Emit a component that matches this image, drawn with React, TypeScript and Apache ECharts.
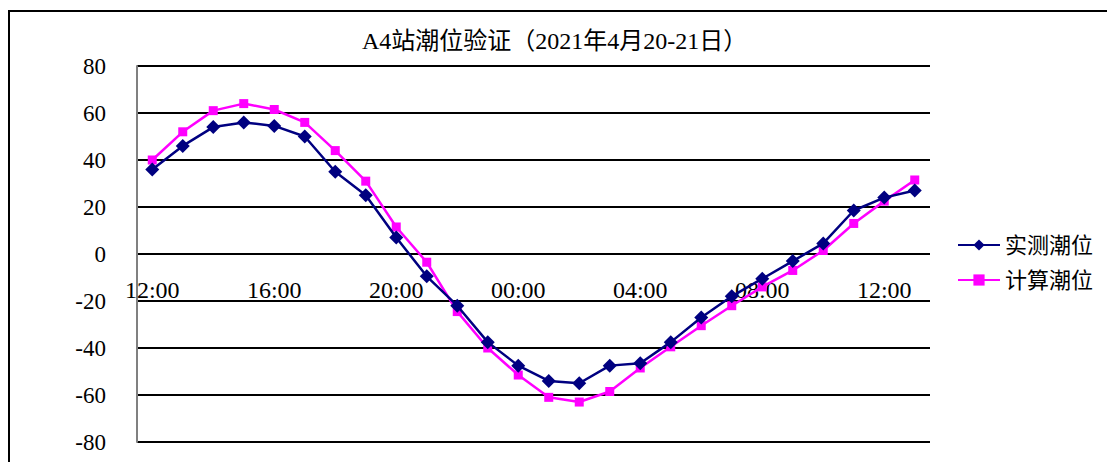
import React, { useEffect, useRef } from "react";
import * as echarts from "echarts";

const categories = [
  "12:00", "13:00", "14:00", "15:00", "16:00", "17:00", "18:00", "19:00",
  "20:00", "21:00", "22:00", "23:00", "00:00", "01:00", "02:00", "03:00",
  "04:00", "05:00", "06:00", "07:00", "08:00", "09:00", "10:00", "11:00",
  "12:00", "13:00",
];

const measured = [
  36, 46, 54, 56, 54.5, 50, 35, 25, 7, -9.5, -22, -37.5, -47.5, -54, -55,
  -47.5, -46.5, -37.5, -27, -18, -10.5, -3, 4.5, 18.5, 24, 27,
];

const computed = [
  40, 52, 61, 64, 61.5, 56, 44, 31, 11.5, -3.5, -24.5, -40, -51.5, -61, -63,
  -58.5, -48.5, -39.5, -30.5, -22, -14, -7, 1.5, 13, 22.5, 31.5,
];

const seriesNames = ["实测潮位", "计算潮位"];
const titleText = "A4站潮位验证（2021年4月20-21日）";

const FONT = "'Liberation Serif', 'Noto Sans CJK SC', serif";

const GRID_TOP = 66;
const GRID_BOTTOM_PX = 442;
const ZERO_PX = 254;

export default function App() {
  const ref = useRef<HTMLDivElement>(null);

  useEffect(() => {
    if (!ref.current) return;
    const chart = echarts.init(ref.current, undefined, { renderer: "svg" });
    chart.setOption({
      animation: false,
      backgroundColor: "#ffffff",
      textStyle: { fontFamily: FONT },
      title: {
        text: titleText,
        left: 362,
        top: 29,
        padding: 0,
        textStyle: {
          fontFamily: FONT,
          fontSize: 24,
          fontWeight: "normal",
          color: "#000",
        },
      },
      legend: {
        orient: "vertical",
        left: 957,
        top: 234,
        padding: 0,
        itemWidth: 42,
        itemHeight: 14,
        itemGap: 13,
        textStyle: { fontFamily: FONT, fontSize: 22, color: "#000", padding: [0, 0, 0, 0] },
        data: seriesNames,
      },
      graphic: [
        {
          type: "rect",
          shape: { x: 9, y: 11, width: 1200, height: 520 },
          style: { fill: "none", stroke: "#000", lineWidth: 2 },
          silent: true,
          z: 100,
        },
      ],
      grid: {
        left: 137,
        right: 177,
        top: GRID_TOP,
        bottom: 462 - GRID_BOTTOM_PX,
        containLabel: false,
        outerBoundsMode: "none",
      },
      xAxis: {
        type: "category",
        data: categories,
        boundaryGap: true,
        position: "bottom",
        offset: -(GRID_BOTTOM_PX - ZERO_PX),
        axisLine: { show: false, onZero: false },
        axisTick: { show: false },
        axisLabel: {
          interval: 3,
          margin: 24,
          fontFamily: FONT,
          fontSize: 24,
          color: "#000",
        },
        splitLine: { show: false },
      },
      yAxis: {
        type: "value",
        min: -80,
        max: 80,
        interval: 20,
        axisLine: { show: true, lineStyle: { color: "#808080", width: 2 } },
        axisTick: { show: false },
        axisLabel: {
          margin: 31,
          fontFamily: FONT,
          fontSize: 23,
          color: "#000",
        },
        splitLine: { show: true, lineStyle: { color: "#000", width: 2 } },
      },
      series: [
        {
          name: seriesNames[0],
          type: "line",
          data: measured,
          symbol: "diamond",
          symbolSize: 14,
          itemStyle: { color: "#000080" },
          lineStyle: { color: "#000080", width: 2.5 },
          z: 3,
        },
        {
          name: seriesNames[1],
          type: "line",
          data: computed,
          symbol: "rect",
          symbolSize: 9,
          itemStyle: { color: "#FF00FF" },
          lineStyle: { color: "#FF00FF", width: 2.5 },
          z: 2,
        },
      ],
    });
    return () => chart.dispose();
  }, []);

  return (
    <div
      ref={ref}
      style={{ position: "absolute", left: 0, top: 0, width: 1107, height: 462 }}
    />
  );
}
